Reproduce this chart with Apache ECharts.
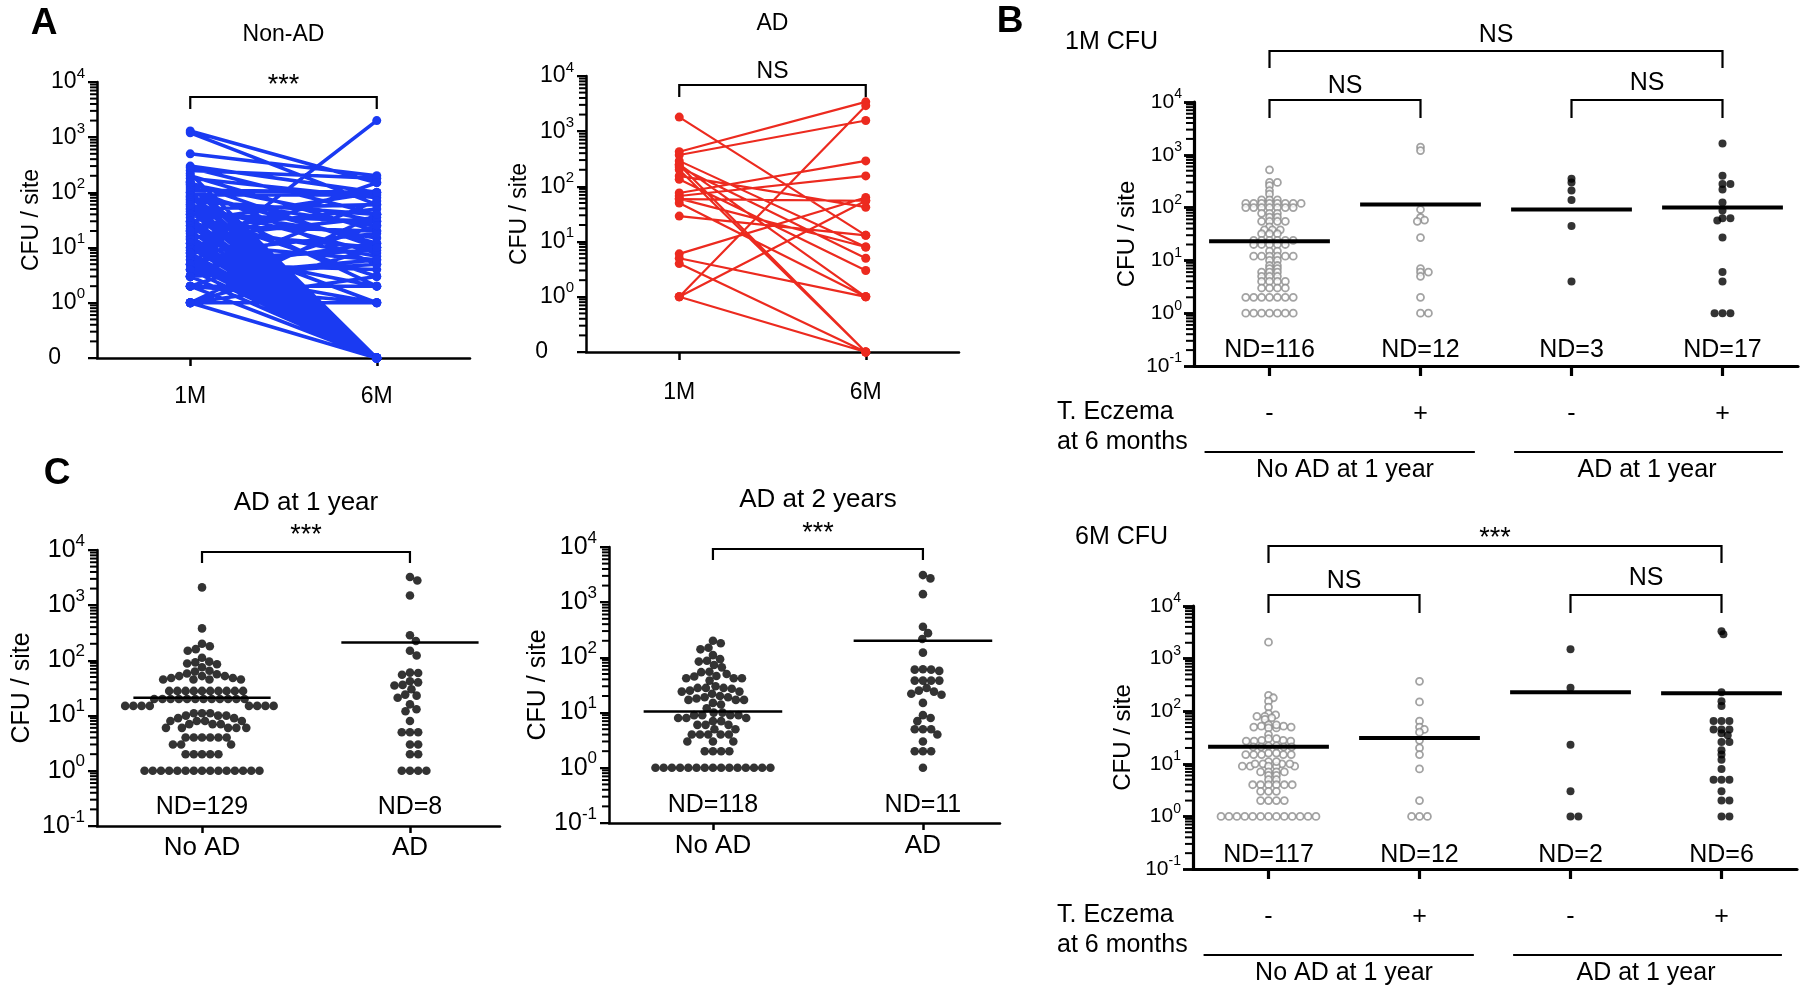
<!DOCTYPE html>
<html><head><meta charset="utf-8">
<script src="https://cdn.jsdelivr.net/npm/echarts@6/dist/echarts.min.js"></script>
<style>html,body{margin:0;padding:0;background:#fff}#c{width:1800px;height:1002px}</style>
</head><body><div id="c"></div>
<script>
// ================= DATA =================
const pairTimes = ['1M', '6M'];
// Panel A, Non-AD: paired CFU/site at 1M and 6M (0 = not detected)
const nonAD1M = [1300, 1200, 500, 300, 280, 250, 220, 200, 180, 160,
  150, 140, 130, 120, 110, 100, 100, 90, 85, 80,
  75, 70, 65, 60, 55, 50, 50, 45, 40, 40,
  35, 30, 30, 28, 25, 25, 22, 20, 20, 18,
  16, 15, 14, 12, 12, 10, 10, 9, 8, 8,
  7, 6, 6, 5, 5, 5, 4, 4, 4, 3,
  3, 3, 3, 2, 2, 2, 2, 2, 1, 1,
  1, 1, 1, 1, 1, 150, 60, 20, 8, 3];
const nonAD6M = [150, 60, 200, 100, 40, 180, 0, 20, 80, 0,
  10, 30, 0, 5, 100, 0, 12, 90, 0, 25,
  2, 40, 0, 8, 0, 60, 15, 0, 3, 30,
  0, 100, 0, 7, 0, 20, 50, 0, 10, 1,
  0, 35, 0, 6, 0, 150, 0, 2, 0, 18,
  0, 9, 0, 2000, 0, 4, 0, 12, 1, 0,
  70, 0, 5, 0, 2, 25, 0, 1, 0, 3,
  40, 0, 10, 0, 1, 0, 0, 0, 0, 6];
// Panel A, AD
const ad1M = [1800, 425, 370, 290, 245, 225, 200, 155, 135, 76, 67, 59, 50, 29, 6, 4, 5, 1, 1, 1, 60, 250];
const ad6M = [13, 3400, 1560, 8, 0, 5, 0, 42, 3, 290, 155, 55, 1, 13, 63, 0, 1, 2900, 55, 0, 8, 1];

const zeroTickLabels = ['0', '10^0', '10^1', '10^2', '10^3', '10^4'];
const logTickLabels = ['10^-1', '10^0', '10^1', '10^2', '10^3', '10^4'];

// Panel B
const eczemaSigns = ['-', '+', '-', '+'];
const adGroupLabels = ['No AD at 1 year', 'AD at 1 year'];
const b1mNoADneg = [520, 300, 300, 260, 210, 180, 140, 140, 140,
  120, 120, 120, 120, 120, 120, 120, 120, 100, 100, 100, 100, 100, 100, 100,
  78, 78, 78, 66, 66, 55, 55, 55, 55, 43, 38, 38, 38, 32, 32, 32,
  24, 24, 24, 24, 24, 24, 20, 20, 20, 20, 20, 15, 15, 12, 12, 12, 12, 12, 12,
  10, 10, 8, 8, 7, 7, 6, 6, 6, 5, 5, 5, 4, 4, 4, 4, 3, 3, 3, 3,
  2, 2, 2, 2, 2, 2, 2, 1, 1, 1, 1, 1, 1, 1];
const b1mNoADpos = [1400, 1200, 92, 65, 58, 55, 27, 7, 6, 6, 5, 2, 1, 1];
const b1mADneg = [350, 300, 210, 140, 45, 4];
const b1mADpos = [1630, 400, 280, 280, 220, 125, 88, 63, 63, 57, 27, 6, 4, 1, 1, 1];
const b1mMedians = [23, 114, 92, 100];
const b1mND = ['ND=116', 'ND=12', 'ND=3', 'ND=17'];

const b6mNoADneg = [2050, 200, 180, 155, 120, 90, 85, 80, 80, 75, 70,
  55, 52, 50, 48, 48, 50, 52, 55, 36, 30, 28, 27, 27, 27, 28, 30,
  22, 21, 21, 21, 21, 22, 16, 15, 15, 15, 15, 15, 16,
  11, 10, 10, 9, 9, 9, 9, 9, 10, 10, 11, 7, 7, 6, 6, 7, 7, 5, 5,
  4, 4, 4, 4, 4, 4, 3, 3, 3, 2, 2, 2, 2,
  1, 1, 1, 1, 1, 1, 1, 1, 1, 1, 1, 1, 1];
const b6mNoADpos = [370, 150, 65, 50, 45, 40, 28, 20, 15, 8, 2, 1, 1, 1];
const b6mADneg = [1500, 280, 23, 3, 1, 1];
const b6mADpos = [3300, 2900, 230, 155, 125, 65, 65, 65, 45, 45, 45, 38, 35, 26, 26, 18, 15, 12, 8, 5, 5, 5, 3, 2, 2, 1, 1];
const b6mMedians = [21, 31, 230, 220];
const b6mND = ['ND=117', 'ND=12', 'ND=2', 'ND=6'];

// Panel C
const cCategories = ['No AD', 'AD'];
const c1yNoAD = [2100, 380, 200, 180, 160, 150, 112, 95, 92, 88, 85, 75,
  65, 63, 58, 56, 52, 52, 48, 45, 45, 45, 45, 48, 52,
  28, 28, 28, 28, 28, 28, 28, 28, 28, 28,
  20, 20, 20, 20, 20, 20, 20, 20, 20, 20, 20, 20,
  15, 15, 15, 15, 15, 15, 15, 15,
  11, 11, 10, 10, 9, 8, 8, 7, 7, 7, 8, 8, 9, 10, 11,
  6, 6, 6, 6, 6, 4, 4, 4, 4, 4, 4, 3, 3, 3, 2, 2, 2, 2, 2,
  1, 1, 1, 1, 1, 1, 1, 1, 1, 1, 1, 1, 1, 1, 1];
const c1yAD = [3250, 2800, 1500, 285, 225, 150, 123, 60, 59, 55, 42, 40, 36, 35, 30, 24, 23, 21, 16, 13, 12, 8, 5, 5, 5, 3, 3, 2, 2, 1, 1, 1, 1];
const c1yMedians = [21, 212];
const c1yND = ['ND=129', 'ND=8'];
const c2yNoAD = [200, 180, 150, 140, 110, 93, 87, 84, 73, 66,
  55, 54, 50, 46, 45, 42, 42, 42, 38,
  30, 28, 28, 28, 27, 25, 24, 24, 22,
  20, 19, 19, 18, 17, 17, 17, 15, 14,
  12, 10, 10, 9, 9, 9, 9, 8, 8, 8, 7, 7,
  6, 6, 6, 5, 5, 4, 4, 4, 4, 4, 3, 3, 3, 2, 2, 2, 2,
  1, 1, 1, 1, 1, 1, 1, 1, 1, 1, 1, 1, 1, 1, 1];
const c2yAD = [3100, 2700, 1400, 360, 275, 215, 122, 61, 60, 60, 57, 38, 38, 38, 38, 28, 25, 24, 22, 21, 15, 9, 8, 7, 5, 5, 5, 4, 3, 2, 2, 2, 1];
const c2yMedians = [10.5, 200];
const c2yND = ['ND=118', 'ND=11'];

// ================= LAYOUT / STYLE =================
const FONT = '"Liberation Sans", Arial, Helvetica, sans-serif';
const grids = [
  {left: 97, top: 82, width: 373, height: 276},    // A Non-AD
  {left: 586, top: 76, width: 373, height: 276},   // A AD
  {left: 1194, top: 102, width: 604, height: 264}, // B 1M
  {left: 1193, top: 606, width: 604, height: 263}, // B 6M
  {left: 97, top: 550, width: 403, height: 276},   // C 1 year
  {left: 609, top: 547, width: 391, height: 276}   // C 2 years
];
const xRanges = [[0.5, 2.5], [0.5, 2.5], [0.5, 4.5], [0.5, 4.5], [0.495, 2.433], [0.505, 2.367]];

function supLabel(fs, labels, zeroPad, margin) {
  return {
    margin: margin, color: '#000',
    formatter: function (v) {
      const e = Math.round(Math.log10(v));
      const t = labels[e + 1];
      if (t === undefined) return '';
      const parts = t.split('^');
      if (parts.length === 1) return '{z|' + t + '}';
      return '{b|' + parts[0] + '}{s|' + parts[1] + '}';
    },
    rich: {
      b: {fontFamily: FONT, fontSize: fs, lineHeight: Math.round(fs * 1.4), color: '#000'},
      s: {fontFamily: FONT, fontSize: Math.round(fs * 0.66), lineHeight: Math.round(fs * 0.66), verticalAlign: 'top', color: '#000'},
      z: {fontFamily: FONT, fontSize: fs, lineHeight: Math.round(fs * 1.4), color: '#000', padding: [0, zeroPad, 0, 0]}
    }
  };
}

function yAxisFor(g, o) {
  return {
    type: 'log', logBase: 10, gridIndex: g, min: 0.1, max: 10000, position: 'left',
    axisLine: {show: true, onZero: false, lineStyle: {color: '#000', width: o.lw}},
    axisTick: {show: true, length: o.tick, lineStyle: {color: '#000', width: o.lw * 0.9}},
    minorTick: {show: false}, splitLine: {show: false},
    axisLabel: supLabel(o.fs, o.labels, o.zeroPad || 0, o.margin),
    name: 'CFU / site', nameLocation: 'middle', nameGap: o.nameGap,
    nameTextStyle: {fontFamily: FONT, fontSize: o.nameFs, color: '#000'}
  };
}

function xAxisFor(g, ticks, labels, o) {
  return {
    type: 'value', gridIndex: g, min: xRanges[g][0], max: xRanges[g][1],
    axisLine: {onZero: false, lineStyle: {color: '#000', width: o.lw}},
    axisTick: {show: true, customValues: ticks, length: o.tick, lineStyle: {color: '#000', width: o.lw}},
    axisLabel: labels ? {customValues: ticks, formatter: function (v) { return labels[Math.round(v) - 1]; },
      fontFamily: FONT, fontSize: o.fs, color: '#000', margin: o.margin} : {show: false},
    splitLine: {show: false}
  };
}

// deterministic beeswarm layout (pixel space); kY scales vertical distance in the collision test
function swarm(values, center, g, d, kY) {
  const gr = grids[g], r = xRanges[g];
  const pxX = gr.width / (r[1] - r[0]), pxDec = gr.height / 5;
  const pts = values.map(v => ({v: v, y: Math.log10(v) * pxDec * kY, x: 0}));
  const order = pts.slice().sort((a, b) => b.y - a.y);
  const placed = [];
  for (const p of order) {
    const cands = [0];
    for (const q of placed) {
      const dy = Math.abs(q.y - p.y);
      if (dy < d) { const dx = Math.sqrt(d * d - dy * dy); cands.push(q.x + dx + 0.01, q.x - dx - 0.01); }
    }
    cands.sort((a, b) => Math.abs(a) - Math.abs(b));
    for (const c of cands) {
      if (placed.every(q => (q.x - c) * (q.x - c) + (q.y - p.y) * (q.y - p.y) >= d * d - 0.02)) { p.x = c; break; }
    }
    placed.push(p);
  }
  return pts.map(p => [center + p.x / pxX, p.v]);
}

const zeroLevel = v => (v === 0 ? 0.1 : v);
function pairData(a, b) {
  const out = [];
  for (let i = 0; i < a.length; i++) { out.push([1, zeroLevel(a[i])], [2, zeroLevel(b[i])], [1, '-']); }
  return out;
}

function medianSeries(g, meds, halfW, lw) {
  return {
    type: 'custom', xAxisIndex: g, yAxisIndex: g, z: 10, silent: true,
    data: meds.map((m, i) => [i + 1, m]),
    renderItem: function (params, api) {
      const x = api.value(0), y = api.value(1);
      const p1 = api.coord([x - halfW, y]), p2 = api.coord([x + halfW, y]);
      return {type: 'line', shape: {x1: p1[0], y1: p1[1], x2: p2[0], y2: p2[1]}, style: {stroke: '#000', lineWidth: lw}};
    }
  };
}

const hollow = {color: '#fff', borderColor: '#8c8c8c', borderWidth: 1.8};
const solid = {color: '#000'};
function dots(g, groupIdx, values, d, size, style, kY) {
  return {type: 'scatter', xAxisIndex: g, yAxisIndex: g, symbol: 'circle', symbolSize: size,
    itemStyle: style, data: swarm(values, groupIdx, g, d, kY), z: 5, silent: true};
}

const A = {lw: 2.5, tick: 9, fs: 23, nameFs: 23, margin: 12};
const B = {lw: 3.2, tick: 10, fs: 21, nameFs: 24, margin: 12};
const C = {lw: 2.5, tick: 9, fs: 25, nameFs: 25, margin: 12};

const yAxis = [
  yAxisFor(0, Object.assign({}, A, {labels: zeroTickLabels, zeroPad: 24, nameGap: 54})),
  yAxisFor(1, Object.assign({}, A, {labels: zeroTickLabels, zeroPad: 26, nameGap: 52})),
  yAxisFor(2, Object.assign({}, B, {labels: logTickLabels, nameGap: 55})),
  yAxisFor(3, Object.assign({}, B, {labels: logTickLabels, nameGap: 58})),
  yAxisFor(4, Object.assign({}, C, {labels: logTickLabels, nameGap: 62})),
  yAxisFor(5, Object.assign({}, C, {labels: logTickLabels, nameGap: 56}))
];
const xAxis = [
  xAxisFor(0, [1, 2], pairTimes, {lw: 2.5, tick: 8, fs: 23, margin: 27}),
  xAxisFor(1, [1, 2], pairTimes, {lw: 2.5, tick: 8, fs: 23, margin: 29}),
  xAxisFor(2, [1, 2, 3, 4], null, {lw: 3.2, tick: 10}),
  xAxisFor(3, [1, 2, 3, 4], null, {lw: 3.2, tick: 10}),
  xAxisFor(4, [1, 2], cCategories, {lw: 2.5, tick: 7, fs: 26, margin: 9}),
  xAxisFor(5, [1, 2], cCategories, {lw: 2.5, tick: 7, fs: 26, margin: 10})
];

const BD = 7.9, BK = 2.6, CD = 8.2, CK = 1.0;
const series = [
  {type: 'line', xAxisIndex: 0, yAxisIndex: 0, data: pairData(nonAD1M, nonAD6M), connectNulls: false,
    symbol: 'circle', symbolSize: 9, showAllSymbol: true, lineStyle: {color: '#1a3af2', width: 3.6},
    itemStyle: {color: '#1a3af2'}, silent: true},
  {type: 'line', xAxisIndex: 1, yAxisIndex: 1, data: pairData(ad1M, ad6M), connectNulls: false,
    symbol: 'circle', symbolSize: 9, showAllSymbol: true, lineStyle: {color: '#ec2a1f', width: 2.2},
    itemStyle: {color: '#ec2a1f'}, silent: true},
  dots(2, 1, b1mNoADneg, BD, 7, hollow, BK), dots(2, 2, b1mNoADpos, BD, 7, hollow, BK),
  dots(2, 3, b1mADneg, BD, 8, solid, BK), dots(2, 4, b1mADpos, BD, 8, solid, BK),
  medianSeries(2, b1mMedians, 0.4, 4),
  dots(3, 1, b6mNoADneg, BD, 7, hollow, BK), dots(3, 2, b6mNoADpos, BD, 7, hollow, BK),
  dots(3, 3, b6mADneg, BD, 8, solid, BK), dots(3, 4, b6mADpos, BD, 8, solid, BK),
  medianSeries(3, b6mMedians, 0.4, 4),
  dots(4, 1, c1yNoAD, CD, 8.6, solid, CK), dots(4, 2, c1yAD, CD, 8.6, solid, CK),
  medianSeries(4, c1yMedians, 0.33, 2.5),
  dots(5, 1, c2yNoAD, CD, 8.6, solid, CK), dots(5, 2, c2yAD, CD, 8.6, solid, CK),
  medianSeries(5, c2yMedians, 0.33, 2.5)
];

const chart = echarts.init(document.getElementById('c'), null, {renderer: 'canvas'});
chart.setOption({
  animation: false, backgroundColor: '#fff',
  grid: grids.map(g => Object.assign({containLabel: false}, g)),
  xAxis: xAxis, yAxis: yAxis, series: series
});

// ================= ANNOTATIONS =================
const gx = (g, v) => chart.convertToPixel({xAxisIndex: g}, v);
const font = (s, bold) => (bold ? 'bold ' : '') + s + 'px ' + FONT;
function txt(str, x, y, size, opts) {
  opts = opts || {};
  return {type: 'text', x: x, y: y, z: 20, silent: true,
    style: {text: str, font: font(size, opts.bold), textAlign: opts.align || 'center', textVerticalAlign: 'middle', fill: '#000'}};
}
function bracket(g, a, b, yTop, yBot, lw) {
  const x1 = gx(g, a), x2 = gx(g, b);
  return {type: 'polyline', z: 20, silent: true, shape: {points: [[x1, yBot], [x1, yTop], [x2, yTop], [x2, yBot]]},
    style: {stroke: '#000', lineWidth: lw || 2, fill: null}};
}
function hline(g, a, b, y, lw) {
  return {type: 'line', z: 20, silent: true, shape: {x1: gx(g, a), y1: y, x2: gx(g, b), y2: y}, style: {stroke: '#000', lineWidth: lw || 2}};
}

const G = [];
// log-spaced minor ticks (2..9 x 10^n) along every y axis
for (let g = 0; g < 6; g++) {
  const gr = grids[g];
  const len = (g === 2 || g === 3) ? 8 : 7;
  for (let n = -1; n < 4; n++) {
    for (let k = 2; k <= 9; k++) {
      const y = gr.top + gr.height * (4 - (n + Math.log10(k))) / 5;
      G.push({type: 'line', z: 30, silent: true,
        shape: {x1: gr.left - len, y1: y, x2: gr.left, y2: y},
        style: {stroke: '#000', lineWidth: 2}});
    }
  }
}
// Panel A
G.push(txt('A', 44, 24, 37, {bold: true}));
G.push(txt('Non-AD', gx(0, 1.5), 35, 23));
G.push(txt('***', gx(0, 1.5), 86, 27));
G.push(bracket(0, 1, 2, 97, 109, 2.2));
G.push(txt('AD', gx(1, 1.5), 24, 23));
G.push(txt('NS', gx(1, 1.5), 72, 23));
G.push(bracket(1, 1, 2, 85, 97, 2.2));

// Panel B
G.push(txt('B', 1010, 22, 37, {bold: true}));
function panelB(g, title, titleX, yOff, topSig, ndArr) {
  G.push(txt(title, titleX, 42 + yOff, 25, {align: 'left'}));
  G.push(txt(topSig, gx(g, 2.5), (topSig === 'NS' ? 35 : 44) + yOff, topSig === 'NS' ? 25 : 27));
  G.push(bracket(g, 1, 4, 51 + yOff, 68 + yOff, 2.2));
  G.push(txt('NS', gx(g, 1.5), 86 + yOff, 25));
  G.push(txt('NS', gx(g, 3.5), 83 + yOff, 25));
  G.push(bracket(g, 1, 2, 100 + yOff, 118 + yOff, 2.2));
  G.push(bracket(g, 3, 4, 100 + yOff, 118 + yOff, 2.2));
  ndArr.forEach((t, i) => G.push(txt(t, gx(g, i + 1), (g === 2 ? 350 : 855), 25)));
  const r1 = (g === 2 ? 412 : 915);
  G.push(txt('T. Eczema', 1057, r1, 25, {align: 'left'}));
  G.push(txt('at 6 months', 1057, r1 + 30, 25, {align: 'left'}));
  eczemaSigns.forEach((s, i) => G.push(txt(s, gx(g, i + 1), r1 + 2, 25)));
  G.push(hline(g, 0.57, 2.36, r1 + 40, 2));
  G.push(hline(g, 2.62, 4.4, r1 + 40, 2));
  G.push(txt(adGroupLabels[0], gx(g, 1.5), r1 + 58, 25));
  G.push(txt(adGroupLabels[1], gx(g, 3.5), r1 + 58, 25));
}
panelB(2, '1M CFU', 1065, 0, 'NS', b1mND);
panelB(3, '6M CFU', 1075, 495, '***', b6mND);

// Panel C
G.push(txt('C', 57, 474, 37, {bold: true}));
G.push(txt('AD at 1 year', gx(4, 1.5), 503, 26));
G.push(txt('***', gx(4, 1.5), 536, 27));
G.push(bracket(4, 1, 2, 552, 563, 2.2));
c1yND.forEach((t, i) => G.push(txt(t, gx(4, i + 1), 807, 25)));
G.push(txt('AD at 2 years', gx(5, 1.5), 500, 26));
G.push(txt('***', gx(5, 1.5), 534, 27));
G.push(bracket(5, 1, 2, 549, 560, 2.2));
c2yND.forEach((t, i) => G.push(txt(t, gx(5, i + 1), 805, 25)));

chart.setOption({graphic: {elements: G}});
</script>
</body></html>
